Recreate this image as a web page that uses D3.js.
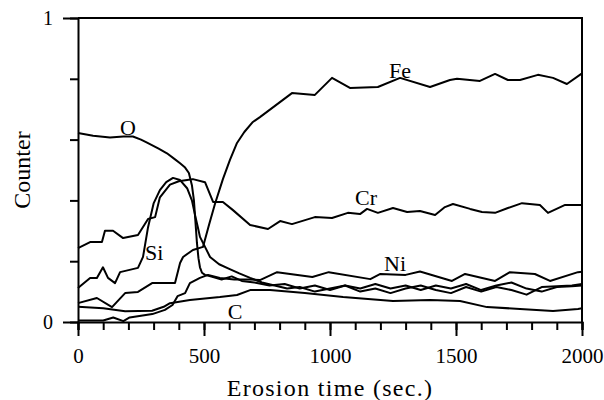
<!DOCTYPE html>
<html>
<head>
<meta charset="utf-8">
<script src="https://cdn.jsdelivr.net/npm/d3@7"></script>
<style>
  body { margin: 0; background: #fff; }
  svg text { font-family: "Liberation Serif", "Times New Roman", serif; fill: #000; }
</style>
</head>
<body>
<div id="chart"></div>
<script>
// erosion time (sec.) vs counter, one array of [t, value] per element
const O = [[0,0.622],[60,0.613],[127,0.607],[180,0.61],[218,0.61],[250,0.6],[274,0.59],[320,0.57],[353,0.555],[385,0.535],[405,0.522],[425,0.508],[440,0.49],[452,0.45],[460,0.4],[466,0.33],[472,0.26],[478,0.21],[484,0.18],[492,0.162],[504,0.155],[536,0.148],[570,0.14],[610,0.15],[650,0.135],[700,0.13],[760,0.12],[820,0.125],[880,0.11],[940,0.12],[1000,0.105],[1060,0.12],[1120,0.11],[1180,0.125],[1240,0.11],[1300,0.12],[1360,0.105],[1420,0.12],[1480,0.11],[1540,0.125],[1600,0.105],[1660,0.12],[1720,0.13],[1780,0.11],[1840,0.1],[1900,0.115],[1960,0.118],[2000,0.12]];
const Si = [[0,0.112],[48,0.145],[75,0.145],[99,0.18],[119,0.145],[147,0.128],[167,0.164],[238,0.178],[258,0.214],[278,0.312],[300,0.39],[325,0.434],[350,0.46],[377,0.474],[405,0.467],[433,0.44],[452,0.4],[465,0.35],[476,0.31],[484,0.28],[504,0.247],[524,0.214],[560,0.19],[600,0.175],[640,0.16],[683,0.145],[730,0.13],[780,0.12],[830,0.11],[880,0.115],[940,0.1],[1000,0.11],[1060,0.12],[1120,0.1],[1180,0.11],[1240,0.095],[1300,0.11],[1360,0.12],[1420,0.105],[1480,0.095],[1540,0.115],[1600,0.1],[1660,0.115],[1720,0.105],[1780,0.09],[1840,0.115],[1900,0.118],[1960,0.12],[2000,0.125]];
const Fe = [[0,0.062],[75,0.079],[135,0.049],[187,0.095],[238,0.099],[294,0.128],[385,0.128],[405,0.194],[417,0.214],[456,0.237],[496,0.247],[520,0.32],[544,0.39],[575,0.47],[603,0.533],[631,0.589],[660,0.625],[694,0.658],[722,0.674],[849,0.753],[940,0.747],[1008,0.803],[1079,0.77],[1190,0.773],[1278,0.803],[1397,0.773],[1476,0.796],[1504,0.8],[1595,0.793],[1655,0.816],[1706,0.796],[1754,0.796],[1825,0.813],[1885,0.803],[1940,0.783],[2000,0.818]];
const Cr = [[0,0.243],[48,0.263],[95,0.263],[107,0.3],[139,0.3],[179,0.276],[238,0.286],[278,0.339],[306,0.345],[325,0.41],[365,0.452],[400,0.463],[433,0.467],[456,0.47],[504,0.46],[536,0.395],[575,0.395],[615,0.368],[683,0.319],[754,0.306],[802,0.332],[849,0.322],[940,0.345],[1008,0.342],[1071,0.359],[1119,0.355],[1147,0.372],[1190,0.359],[1250,0.375],[1306,0.362],[1357,0.365],[1417,0.352],[1456,0.378],[1488,0.388],[1556,0.372],[1603,0.362],[1655,0.359],[1706,0.375],[1762,0.391],[1833,0.385],[1865,0.359],[1933,0.385],[2000,0.385]];
const Ni = [[0,0.005],[100,0.005],[140,0.015],[180,0.003],[205,0.015],[295,0.026],[345,0.04],[375,0.056],[395,0.085],[425,0.095],[444,0.128],[484,0.145],[516,0.155],[563,0.145],[620,0.14],[680,0.14],[722,0.138],[790,0.164],[930,0.148],[995,0.164],[1160,0.141],[1200,0.158],[1300,0.155],[1357,0.166],[1484,0.135],[1536,0.158],[1655,0.135],[1714,0.164],[1813,0.158],[1873,0.135],[1984,0.164],[2000,0.165]];
const C = [[0,0.05],[100,0.045],[187,0.035],[294,0.037],[340,0.05],[365,0.062],[444,0.072],[563,0.082],[631,0.089],[683,0.105],[762,0.105],[900,0.095],[1052,0.082],[1250,0.069],[1397,0.072],[1516,0.069],[1623,0.049],[1754,0.043],[1885,0.036],[1984,0.043],[2000,0.045]];

const series = [O, Si, Fe, Cr, Ni, C];
const labels = [["O",198,0.641],["Fe",1278,0.829],["Cr",1143,0.411],["Si",302,0.23],["Ni",1258,0.194],["C",623,0.036]];
const xMajor = [0, 500, 1000, 1500, 2000];
const yMajor = [0, 1];

const width = 604, height = 400;
const margin = {top: 18, right: 22, bottom: 78, left: 78};

const x = d3.scaleLinear().domain([0, 2000]).range([margin.left, width - margin.right]);
const y = d3.scaleLinear().domain([0, 1]).range([height - margin.bottom, margin.top]);

const svg = d3.select("#chart").append("svg")
    .attr("width", width)
    .attr("height", height);

const line = d3.line()
    .x(d => x(d[0]))
    .y(d => y(d[1]));

svg.append("g")
  .selectAll("path")
  .data(series)
  .join("path")
    .attr("fill", "none")
    .attr("stroke", "#000")
    .attr("stroke-width", 2)
    .attr("stroke-linejoin", "round")
    .attr("d", line);

// frame: top and right
svg.append("path")
    .attr("fill", "none")
    .attr("stroke", "#000")
    .attr("stroke-width", 2)
    .attr("d", `M${x(0)},${y(1)}H${x(2000)}V${y(0)}`);

// x axis: minor + major ticks
svg.append("g")
    .attr("transform", `translate(0,${y(0)})`)
    .call(d3.axisBottom(x).tickValues(d3.range(0, 2001, 100)).tickSize(8).tickFormat(""))
    .call(g => g.select(".domain").attr("stroke-width", 2));
svg.append("g")
    .attr("transform", `translate(0,${y(0)})`)
    .call(d3.axisBottom(x).tickValues(xMajor).tickSize(14).tickPadding(12).tickFormat(d3.format("d")))
    .call(g => g.select(".domain").remove())
    .call(g => g.selectAll("text").attr("font-size", 21));
svg.selectAll(".tick line").attr("stroke-width", 2);

// y axis
svg.append("g")
    .attr("transform", `translate(${x(0)},0)`)
    .call(d3.axisLeft(y).tickValues([0.2, 0.4, 0.6, 0.8]).tickSize(8).tickFormat(""))
    .call(g => g.select(".domain").attr("stroke-width", 2));
svg.append("g")
    .attr("transform", `translate(${x(0)},0)`)
    .call(d3.axisLeft(y).tickValues(yMajor).tickSize(15).tickPadding(10).tickFormat(d3.format("d")))
    .call(g => g.select(".domain").remove())
    .call(g => g.selectAll("text").attr("font-size", 20));
svg.selectAll(".tick line").attr("stroke-width", 2);

// element labels
svg.append("g")
  .selectAll("text")
  .data(labels)
  .join("text")
    .attr("x", d => x(d[1]))
    .attr("y", d => y(d[2]))
    .attr("text-anchor", "middle")
    .attr("dy", "0.35em")
    .attr("font-size", 22)
    .text(d => d[0]);

svg.append("text")
    .attr("x", (x(0) + x(2000)) / 2)
    .attr("y", 396)
    .attr("text-anchor", "middle")
    .attr("font-size", 24)
    .attr("letter-spacing", 1.3)
    .text("Erosion time (sec.)");

svg.append("text")
    .attr("transform", `translate(30,${(y(0) + y(1)) / 2}) rotate(-90)`)
    .attr("text-anchor", "middle")
    .attr("font-size", 24)
    .text("Counter");
</script>
</body>
</html>
